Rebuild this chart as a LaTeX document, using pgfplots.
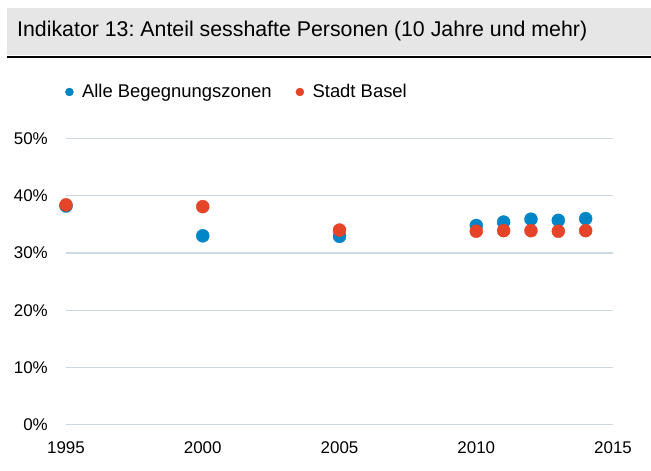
\documentclass[border=0pt]{standalone}
\usepackage{fontspec}
\setmainfont{Liberation Sans}
\usepackage{pgfplots}
\pgfplotsset{compat=1.18}
\definecolor{cblue}{HTML}{0085C7}
\definecolor{cred}{HTML}{E64428}
\definecolor{cgrid}{HTML}{CCD9E0}
\definecolor{cbg}{HTML}{E6E6E6}
\frenchspacing
\begin{document}
\begin{tikzpicture}[x=1bp,y=1bp]
\path[use as bounding box] (0,0) rectangle (651,471);
\fill[cbg] (7,416) rectangle (651,463);
\draw[black, line width=2.2bp] (7,414) -- (651,414);
\node[anchor=west, inner sep=0pt, font=\fontsize{21.4}{25}\selectfont] at (17,440) {Indikator 13: Anteil sesshafte Personen (10 Jahre und mehr)};
\begin{axis}[
  at={(66bp,46.3bp)}, anchor=south west,
  scale only axis, width=547bp, height=286.2bp,
  xmin=1995, xmax=2015, ymin=0, ymax=50,
  xtick={1995,2000,2005,2010,2015},
  xticklabels={1995,2000,2005,2010,2015},
  ytick={0,10,20,30,40,50},
  yticklabel={\pgfmathprintnumber{\tick}\%},
  /pgf/number format/assume math mode=true,
  ticklabel style={font=\fontsize{17}{20}\selectfont},
  xticklabel style={anchor=north, inner sep=0pt, yshift=-17bp},
  yticklabel style={anchor=east, inner sep=0pt, xshift=-18bp},
  major tick length=0pt,
  axis line style={draw=none},
  ymajorgrids, grid style={cgrid, line width=1.3bp},
  clip=false,
  legend columns=-1,
  legend style={draw=none, fill=none, at={(0,1)}, anchor=west, xshift=-1bp, yshift=46.5bp,
    font=\fontsize{18.5}{22}\selectfont, inner sep=0pt,
    /tikz/every odd column/.append style={column sep=8.5bp},
    /tikz/every even column/.append style={column sep=24bp},
    nodes={inner sep=0pt}},
  legend image code/.code={\fill[#1] (4bp,0bp) circle (4bp);},
]
\addplot[only marks, mark=*, color=cblue, mark options={draw=none, fill=cblue}, mark size=6.5bp]
  coordinates {(1995,38.2) (2000,33.0) (2005,32.9) (2010,34.8) (2011,35.4) (2012,35.9) (2013,35.7) (2014,36.0)};
\addlegendentry{Alle Begegnungszonen}
\addplot[only marks, mark=*, color=cred, mark options={draw=none, fill=cred}, mark size=6.5bp]
  coordinates {(1995,38.4) (2000,38.1) (2005,34.0) (2010,33.8) (2011,33.9) (2012,33.9) (2013,33.8) (2014,33.9)};
\addlegendentry{Stadt Basel}
\end{axis}
\end{tikzpicture}
\end{document}
